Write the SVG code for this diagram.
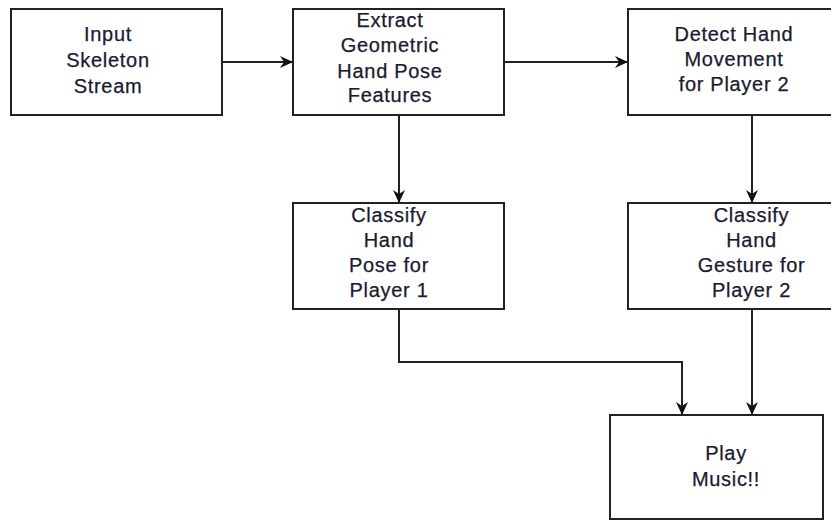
<svg xmlns="http://www.w3.org/2000/svg" width="831" height="520" viewBox="0 0 831 520">
  <defs>
    <marker id="arrow" viewBox="0 0 13 12" refX="13" refY="6" markerWidth="13" markerHeight="12" markerUnits="userSpaceOnUse" orient="auto">
      <path d="M0,0 L13,6 L0,12 L4,6 Z" fill="#111111"/>
    </marker>
    <style>
      .box { fill: #ffffff; stroke: #222222; stroke-width: 2; }
      .lbl { font-family: "Liberation Sans", Arial, sans-serif; font-size: 20px; fill: #1a1a30; stroke: #1a1a30; stroke-width: 0.25; text-anchor: middle; letter-spacing: 0.7px; }
      .edge { fill: none; stroke: #222222; stroke-width: 2; marker-end: url(#arrow); }
    </style>
  </defs>
  <rect width="831" height="520" fill="#ffffff"/>

  <g id="connectors">
    <path class="edge" d="M222,62 L293,62"/>
    <path class="edge" d="M504,62 L628,62"/>
    <path class="edge" d="M399,115 L399,203"/>
    <path class="edge" d="M752,115 L752,203"/>
    <path class="edge" d="M399,309 L399,362 L682,362 L682,415"/>
    <path class="edge" d="M752,309 L752,415"/>
  </g>

  <g id="input-skeleton">
    <rect class="box" x="11" y="9" width="211" height="106"/>
    <text class="lbl"><tspan x="108" y="41">Input</tspan><tspan x="108" y="67">Skeleton</tspan><tspan x="108" y="93">Stream</tspan></text>
  </g>

  <g id="extract-features">
    <rect class="box" x="293" y="9" width="211" height="106"/>
    <text class="lbl"><tspan x="390" y="27">Extract</tspan><tspan x="390" y="52">Geometric</tspan><tspan x="390" y="78">Hand Pose</tspan><tspan x="390" y="102">Features</tspan></text>
  </g>

  <g id="detect-movement">
    <rect class="box" x="628" y="9" width="250" height="106"/>
    <text class="lbl"><tspan x="734" y="41">Detect Hand</tspan><tspan x="734" y="66">Movement</tspan><tspan x="734" y="91">for Player 2</tspan></text>
  </g>

  <g id="classify-pose">
    <rect class="box" x="293" y="203" width="211" height="106"/>
    <text class="lbl"><tspan x="389" y="222">Classify</tspan><tspan x="389" y="247">Hand</tspan><tspan x="389" y="272">Pose for</tspan><tspan x="389" y="297">Player 1</tspan></text>
  </g>

  <g id="classify-gesture">
    <rect class="box" x="628" y="203" width="250" height="106"/>
    <text class="lbl"><tspan x="751.5" y="222">Classify</tspan><tspan x="751.5" y="247">Hand</tspan><tspan x="751.5" y="272">Gesture for</tspan><tspan x="751.5" y="297">Player 2</tspan></text>
  </g>

  <g id="play-music">
    <rect class="box" x="610" y="415" width="213" height="104"/>
    <text class="lbl"><tspan x="726" y="460">Play</tspan><tspan x="726" y="486">Music!!</tspan></text>
  </g>
</svg>
